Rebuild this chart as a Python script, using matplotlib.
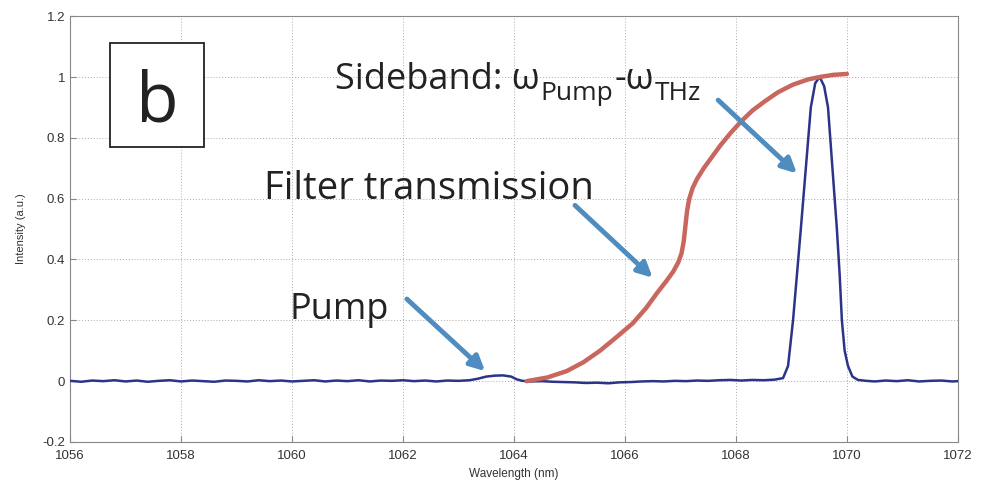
import matplotlib
matplotlib.use("Agg")
import matplotlib.pyplot as plt
from matplotlib.patches import Rectangle
from matplotlib.transforms import offset_copy

plt.rcParams['font.family'] = ['Liberation Sans', 'DejaVu Sans']

wl = [1056.0, 1056.2, 1056.4, 1056.6, 1056.8, 1057.0, 1057.2, 1057.4, 1057.6, 1057.8,
      1058.0, 1058.2, 1058.4, 1058.6, 1058.8, 1059.0, 1059.2, 1059.4, 1059.6, 1059.8,
      1060.0, 1060.2, 1060.4, 1060.6, 1060.8, 1061.0, 1061.2, 1061.4, 1061.6, 1061.8,
      1062.0, 1062.2, 1062.4, 1062.6, 1062.8, 1063.0, 1063.2, 1063.35, 1063.5, 1063.65,
      1063.8, 1063.95, 1064.05, 1064.15, 1064.3, 1064.5, 1064.7, 1064.9, 1065.1, 1065.3,
      1065.5, 1065.7, 1065.9, 1066.1, 1066.3, 1066.5, 1066.7, 1066.9, 1067.1, 1067.3,
      1067.5, 1067.7, 1067.9, 1068.1, 1068.3, 1068.5, 1068.7, 1068.85, 1068.94, 1069.03,
      1069.10, 1069.17, 1069.26, 1069.35, 1069.43, 1069.51, 1069.59, 1069.66, 1069.74, 1069.82,
      1069.87, 1069.91, 1069.96, 1070.02, 1070.1, 1070.2, 1070.35, 1070.5, 1070.7, 1070.9,
      1071.1, 1071.3, 1071.5, 1071.7, 1071.9, 1072.0]
intensity = [0.001, -0.002, 0.002, 0.000, 0.003, -0.001, 0.002, -0.002, 0.001, 0.003,
             -0.001, 0.002, 0.000, -0.002, 0.002, 0.001, -0.001, 0.003, 0.000, 0.002,
             -0.001, 0.001, 0.003, -0.001, 0.002, 0.000, 0.003, -0.001, 0.002, 0.001,
             0.003, 0.000, 0.002, -0.001, 0.002, 0.001, 0.003, 0.008, 0.015, 0.018,
             0.019, 0.015, 0.006, 0.001, -0.001, 0.000, -0.002, -0.003, -0.004, -0.006,
             -0.005, -0.007, -0.004, -0.003, -0.001, 0.000, -0.001, 0.001, 0.000, 0.002,
             0.001, 0.003, 0.004, 0.002, 0.004, 0.003, 0.005, 0.010, 0.050, 0.200,
             0.350, 0.500, 0.700, 0.900, 0.980, 1.000, 0.970, 0.900, 0.700, 0.500,
             0.350, 0.200, 0.100, 0.050, 0.015, 0.004, 0.001, -0.001, 0.002, 0.000,
             0.003, -0.001, 0.001, 0.002, -0.001, 0.000]

# filter transmission curve
filt_wl = [1064.23, 1064.6, 1064.95, 1065.25, 1065.55, 1065.85, 1066.14, 1066.38, 1066.58,
           1066.75, 1066.87, 1066.96, 1067.02, 1067.06, 1067.09, 1067.12, 1067.16, 1067.22,
           1067.3, 1067.42, 1067.56, 1067.72, 1067.9, 1068.1, 1068.3, 1068.52, 1068.76,
           1069.03, 1069.3, 1069.51, 1069.75, 1070.0]
filt_t = [0.0, 0.012, 0.033, 0.062, 0.10, 0.145, 0.19, 0.24, 0.29,
          0.33, 0.36, 0.39, 0.42, 0.46, 0.51, 0.56, 0.60, 0.635,
          0.665, 0.70, 0.735, 0.775, 0.815, 0.855, 0.89, 0.92, 0.95,
          0.975, 0.992, 1.0, 1.007, 1.01]

xticks = [1056, 1058, 1060, 1062, 1064, 1066, 1068, 1070, 1072]
yticks = [-0.2, 0, 0.2, 0.4, 0.6, 0.8, 1, 1.2]

# label text, left x, baseline y, size
labels = [("Pump", 1059.96, 0.205, 26),
          ("Filter transmission", 1059.5, 0.60, 27.5)]
# sideband label pieces: text, size, baseline shift (pt)
sideband_pos = (1060.77, 0.96)
sideband_parts = [("Sideband: ω", 26, 0), ("Pump", 19, -7.5),
                  ("-ω", 26, 0), ("THz", 19, -7.5)]
# arrows: tail -> head
arrows = [((1062.07, 0.27), (1063.48, 0.033)),
          ((1065.1, 0.578), (1066.5, 0.34)),
          ((1067.68, 0.924), (1069.1, 0.683))]

fig = plt.figure(figsize=(9.81, 4.90), dpi=100)
ax = fig.add_axes([0.0714, 0.098, 0.905, 0.869])

ax.plot(wl, intensity, color='#2b3488', lw=1.8, zorder=3)
ax.plot(filt_wl, filt_t, color='#c8675e', lw=3.2, solid_capstyle='round', zorder=4)

ax.set_xlim(1056, 1072)
ax.set_ylim(-0.2, 1.2)
ax.set_xticks(xticks)
ax.set_yticks(yticks)
ax.set_yticklabels(['%g' % v for v in yticks])
ax.grid(True, ls=(0, (1, 2)), color='#aaaaaa', lw=0.7)
ax.tick_params(direction='in', length=4, labelsize=9.5, colors='#888888', labelcolor='#333333')
ax.tick_params(axis='x', pad=6)
for s in ax.spines.values():
    s.set_color('#888888')
ax.set_xlabel('Wavelength (nm)', fontsize=8.5, color='#333333', labelpad=4)
ax.set_ylabel('Intensity (a.u.)', fontsize=8, color='#333333', labelpad=12)

for txt, x, y, fs in labels:
    ax.text(x, y, txt, family='Open Sans', fontsize=fs, color='#222222',
            ha='left', va='baseline', zorder=5)

# sideband label with hand-made subscripts
renderer = fig.canvas.get_renderer()
x0, y0 = ax.transData.transform(sideband_pos)
for txt, fs, dy in sideband_parts:
    trans = offset_copy(ax.transData, fig=fig, x=0, y=dy, units='points')
    xd, yd = ax.transData.inverted().transform((x0, y0))
    t = ax.text(xd, yd, txt, family='Open Sans', fontsize=fs, color='#222222',
                ha='left', va='baseline', transform=trans, zorder=5)
    x0 = t.get_window_extent(renderer).x1 + 1

for tail, head in arrows:
    ax.annotate('', xy=head, xytext=tail,
                arrowprops=dict(arrowstyle='-|>', color='#4f8cbf', lw=3.5,
                                mutation_scale=22, shrinkA=0, shrinkB=0), zorder=5)

ax.add_patch(Rectangle((0.045, 0.692), 0.106, 0.245, transform=ax.transAxes,
                       fill=True, facecolor='white', edgecolor='#222222', lw=1.3, zorder=5))
ax.text(0.098, 0.795, 'b', transform=ax.transAxes, family='Open Sans', fontsize=50,
        ha='center', va='center', color='#222222', zorder=6)

fig.savefig('out.png', dpi=100)
